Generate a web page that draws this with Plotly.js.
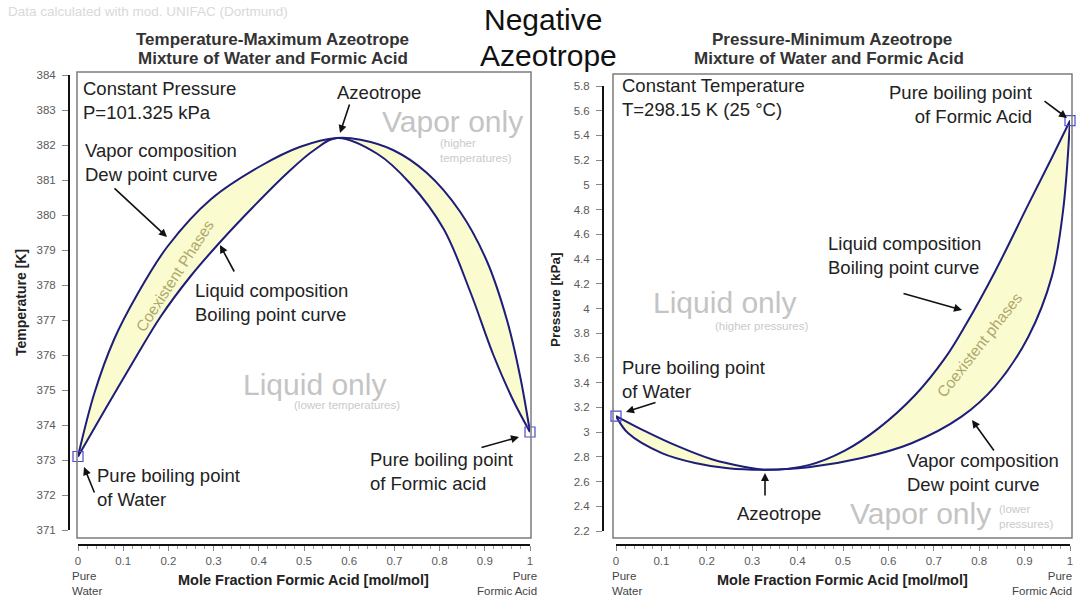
<!DOCTYPE html>
<html><head><meta charset="utf-8">
<script src="https://cdn.plot.ly/plotly-3.0.1.min.js"></script>
<style>html,body{margin:0;padding:0;background:#fff;}#chart{width:1078px;height:598px;}</style>
</head><body><div id="chart"></div>
<script>
// ---- Left chart: T-x-y at 101.325 kPa ----
const leftDewX = [0, 0.036, 0.080, 0.132, 0.198, 0.294, 0.404, 0.492, 0.573, 0.625, 0.698, 0.772, 0.845, 0.904, 0.949, 0.978, 1.0];
const leftDewT = [373.1, 374.9, 376.45, 377.75, 379.1, 380.45, 381.4, 381.95, 382.2, 382.15, 381.85, 381.2, 380.1, 378.7, 377.0, 375.4, 373.8];
const leftBubX = [0, 0.058, 0.124, 0.183, 0.249, 0.316, 0.389, 0.463, 0.522, 0.573, 0.662, 0.735, 0.809, 0.868, 0.919, 0.963, 1.0];
const leftBubT = [373.1, 374.4, 375.85, 377.1, 378.25, 379.25, 380.25, 381.2, 381.85, 382.2, 381.75, 380.9, 379.6, 377.8, 376.0, 374.7, 373.8];
const leftPureX = [0, 1];
const leftPureT = [373.1, 373.8];
// ---- Right chart: P-x-y at 298.15 K ----
const rightLiqX = [0, 0.064, 0.137, 0.211, 0.284, 0.328, 0.424, 0.504, 0.578, 0.659, 0.725, 0.769, 0.835, 0.908, 0.960, 1.0];
const rightLiqP = [3.13, 3.008, 2.884, 2.78, 2.718, 2.695, 2.733, 2.85, 3.03, 3.30, 3.60, 3.86, 4.30, 4.84, 5.22, 5.52];
const rightVapX = [0, 0.027, 0.101, 0.174, 0.247, 0.328, 0.424, 0.541, 0.651, 0.761, 0.835, 0.908, 0.960, 0.985, 1.0];
const rightVapP = [3.13, 2.99, 2.83, 2.75, 2.707, 2.695, 2.715, 2.79, 2.91, 3.125, 3.37, 3.77, 4.26, 4.80, 5.52];
const rightPureX = [0, 1];
const rightPureP = [3.13, 5.52];

const W = 1078, H = 598;
const PX = x => x / W, PY = y => 1 - y / H;
const FONT = "Liberation Sans, Arial, sans-serif";
const curveColor = '#1d1d7a', fillColor = '#fbfbd0';

function band(xa, ya, xb, yb, xaxis, yaxis) {
  return {x: xa.concat(xb.slice().reverse()), y: ya.concat(yb.slice().reverse()),
    xaxis, yaxis, mode: 'lines', fill: 'toself', fillcolor: fillColor,
    line: {width: 0, shape: 'spline'}, hoverinfo: 'skip', showlegend: false};
}
function curve(x, y, xaxis, yaxis) {
  return {x, y, xaxis, yaxis, mode: 'lines', line: {color: curveColor, width: 2, shape: 'spline', smoothing: 1}, showlegend: false};
}
function pure(x, y, xaxis, yaxis) {
  return {x, y, xaxis, yaxis, mode: 'markers', cliponaxis: false,
    marker: {symbol: 'square-open', size: 10, color: '#4a4ad0', line: {width: 1.2}}, showlegend: false};
}

const traces = [
  band(leftDewX, leftDewT, leftBubX, leftBubT, 'x', 'y'),
  curve(leftDewX, leftDewT, 'x', 'y'),
  curve(leftBubX, leftBubT, 'x', 'y'),
  pure(leftPureX, leftPureT, 'x', 'y'),
  band(rightLiqX, rightLiqP, rightVapX, rightVapP, 'x2', 'y2'),
  curve(rightLiqX, rightLiqP, 'x2', 'y2'),
  curve(rightVapX, rightVapP, 'x2', 'y2'),
  pure(rightPureX, rightPureP, 'x2', 'y2')
];

const ann = [];
const AF = 18.5;
function txt(t, x, y, o) {
  o = o || {};
  ann.push(Object.assign({text: t, x: PX(x), y: PY(y), xref: 'paper', yref: 'paper', showarrow: false,
    xanchor: 'left', yanchor: 'middle', align: 'left',
    font: {family: FONT, size: AF, color: '#222'}}, o));
}
function arrow(tx, ty, hx, hy) {
  ann.push({text: '', x: PX(hx), y: PY(hy), xref: 'paper', yref: 'paper', ax: tx - hx, ay: ty - hy,
    showarrow: true, arrowhead: 2, arrowsize: 1, arrowwidth: 1.6, arrowcolor: '#111', standoff: 0, startstandoff: 0});
}
const gray = {family: FONT, size: 30, color: '#c4c4c4'};
const tiny = {family: FONT, size: 11.5, color: '#cacaca'};
const axT = {family: FONT, size: 14.5, color: '#222'};
const titleF = {family: FONT, size: 17, color: '#333'};
const coex = {family: FONT, size: 15.5, color: '#aea86c'};

// top texts
txt('Data calculated with mod. UNIFAC (Dortmund)', 6, 12, {font: {family: FONT, size: 13.5, color: '#d9d9d9'}});
txt('<b>Temperature-Maximum Azeotrope</b>', 273, 40, {xanchor: 'center', font: titleF});
txt('<b>Mixture of Water and Formic Acid</b>', 273, 58, {xanchor: 'center', font: titleF});
txt('<b>Pressure-Minimum Azeotrope</b>', 832, 40, {xanchor: 'center', font: titleF});
txt('<b>Mixture of Water and Formic Acid</b>', 829, 58, {xanchor: 'center', font: titleF});
txt('Negative', 543, 20, {xanchor: 'center', font: {family: FONT, size: 30, color: '#111'}});
txt('Azeotrope', 548, 55, {xanchor: 'center', font: {family: FONT, size: 30, color: '#111'}});

// left chart annotations
txt('Constant Pressure<br>P=101.325 kPa', 81, 100);
txt('Azeotrope', 379, 92, {xanchor: 'center'});
arrow(350, 103, 340, 133);
txt('Vapor only', 452, 122, {xanchor: 'center', font: gray});
txt('(higher<br>temperatures)', 438, 151, {font: tiny});
txt('Vapor composition<br>Dew point curve', 83, 162);
arrow(113, 187, 167, 237);
txt('Liquid composition<br>Boiling point curve', 193, 302);
arrow(235, 273, 220, 245);
txt('Coexistent Phases', 174, 276, {xanchor: 'center', textangle: -57, font: coex});
txt('Liquid only', 314, 384, {xanchor: 'center', font: gray});
txt('(lower temperatures)', 347, 405, {xanchor: 'center', font: tiny});
txt('Pure boiling point<br>of Water', 95, 487);
arrow(95, 494, 84, 467);
txt('Pure boiling point<br>of Formic acid', 368, 471);
arrow(480, 448, 519, 437);

// right chart annotations
txt('Constant Temperature<br>T=298.15 K (25 °C)', 620, 97);
txt('Pure boiling point<br>of Formic Acid', 1034, 104, {xanchor: 'right', align: 'right'});
arrow(1043, 100, 1067, 118);
txt('Liquid composition<br>Boiling point curve', 826, 256);
arrow(902, 293, 962, 310);
txt('Liquid only', 724, 302, {xanchor: 'center', font: gray});
txt('(higher pressures)', 761, 326, {xanchor: 'center', font: tiny});
txt('Pure boiling point<br>of Water', 620, 379);
arrow(657, 402, 626, 412);
txt('Coexistent phases', 980, 345, {xanchor: 'center', textangle: -52, font: coex});
txt('Vapor composition<br>Dew point curve', 905, 472);
arrow(995, 452, 972, 420);
txt('Azeotrope', 779, 513, {xanchor: 'center'});
arrow(765, 497, 765, 473);
txt('Vapor only', 920, 513, {xanchor: 'center', font: gray});
txt('(lower<br>pressures)', 997, 516, {font: tiny});

// axis titles
txt('<b>Temperature [K]</b>', 21, 303, {xanchor: 'center', textangle: -90, font: {family: FONT, size: 14, color: '#222'}});
txt('<b>Pressure [kPa]</b>', 555, 300, {xanchor: 'center', textangle: -90, font: {family: FONT, size: 13.5, color: '#222'}});
txt('<b>Mole Fraction Formic Acid [mol/mol]</b>', 303, 580, {xanchor: 'center', font: axT});
txt('<b>Mole Fraction Formic Acid [mol/mol]</b>', 842, 580, {xanchor: 'center', font: axT});
const small = {family: FONT, size: 11.5, color: '#444'};
txt('Pure<br>Water', 70, 583, {font: small});
txt('Pure<br>Formic Acid', 539, 583, {xanchor: 'right', align: 'right', font: small});
txt('Pure<br>Water', 610, 583, {font: small});
txt('Pure<br>Formic Acid', 1074, 583, {xanchor: 'right', align: 'right', font: small});

const frameLine = {color: '#7c7c7c', width: 1.5};
const shapes = [
  {type: 'rect', xref: 'paper', yref: 'paper', x0: PX(77), x1: PX(531), y0: PY(538), y1: PY(72), line: frameLine},
  {type: 'rect', xref: 'paper', yref: 'paper', x0: PX(613), x1: PX(1072), y0: PY(538), y1: PY(74), line: frameLine}
];

const tickFont = {family: FONT, size: 11.5, color: '#5a5a5a'};
const xCommon = {range: [0, 1], dtick: 0.1, tick0: 0, showgrid: false, zeroline: false, showline: true, linecolor: '#111', linewidth: 2,
  ticks: 'outside', ticklen: 5, tickcolor: '#888', tickfont: tickFont, anchor: 'free', position: 1 - 545 / H,
  minor: {dtick: 0.02, ticks: 'outside', ticklen: 3, tickcolor: '#999'}};
const yCommon = {showgrid: false, zeroline: false, showline: true, linecolor: '#111', linewidth: 2,
  ticks: 'outside', ticklen: 6, tickcolor: '#888', tickfont: tickFont, anchor: 'free', ticklabelstandoff: 4};

const layout = {
  width: W, height: H, margin: {l: 0, r: 0, t: 0, b: 0}, paper_bgcolor: '#fff', plot_bgcolor: 'rgba(0,0,0,0)',
  showlegend: false, font: {family: FONT},
  xaxis: Object.assign({}, xCommon, {domain: [PX(78), PX(530)]}),
  yaxis: Object.assign({}, yCommon, {domain: [PY(530), PY(75)], range: [371, 384], dtick: 1, position: PX(69)}),
  xaxis2: Object.assign({}, xCommon, {domain: [PX(616), PX(1070)]}),
  yaxis2: Object.assign({}, yCommon, {domain: [PY(531), PY(86)], range: [2.2, 5.8], dtick: 0.2, tick0: 2.2, position: PX(603)}),
  annotations: ann, shapes: shapes
};
Plotly.newPlot('chart', traces, layout, {staticPlot: true, displayModeBar: false});
</script></body></html>
